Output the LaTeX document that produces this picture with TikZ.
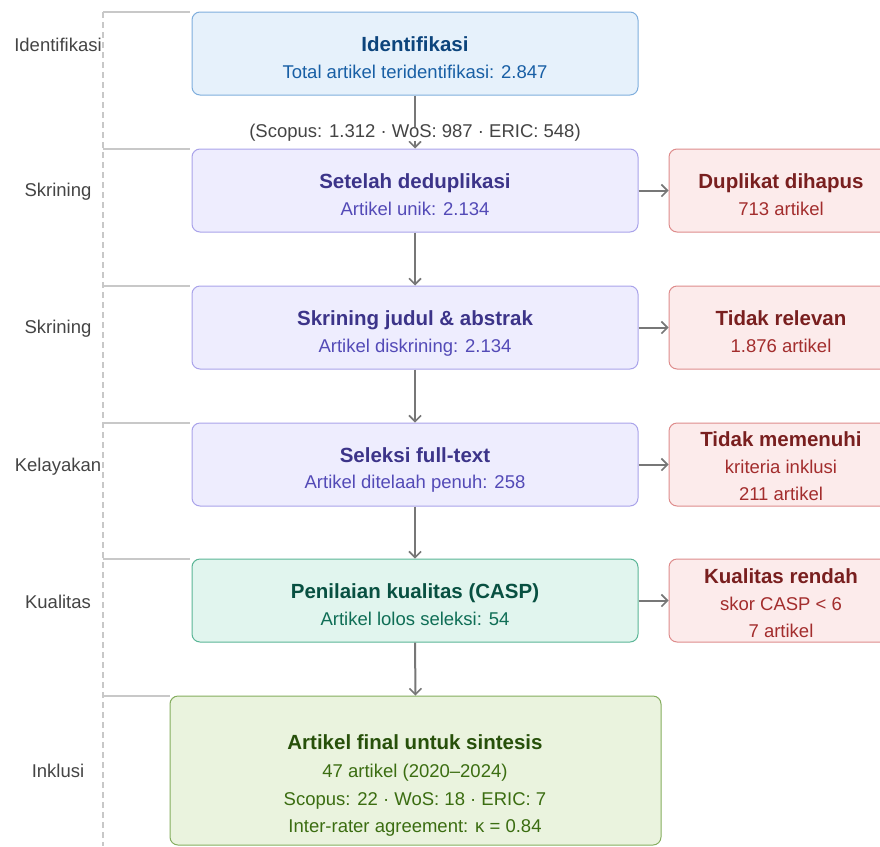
\documentclass[tikz,border=0pt]{standalone}
\usepackage{fontspec}
\setmainfont{Liberation Sans}
\usetikzlibrary{arrows.meta}
\definecolor{bluefill}{HTML}{E6F1FB}
\definecolor{blueline}{HTML}{7FAEDD}
\definecolor{bluetitle}{HTML}{0C447C}
\definecolor{bluesub}{HTML}{185FA5}
\definecolor{purfill}{HTML}{EEEDFE}
\definecolor{purline}{HTML}{A9A3EA}
\definecolor{purtitle}{HTML}{3C3489}
\definecolor{pursub}{HTML}{534AB7}
\definecolor{tealfill}{HTML}{E1F5EE}
\definecolor{tealline}{HTML}{5AB596}
\definecolor{tealtitle}{HTML}{085041}
\definecolor{tealsub}{HTML}{0F6E56}
\definecolor{grnfill}{HTML}{EAF3DE}
\definecolor{grnline}{HTML}{84AD5E}
\definecolor{grntitle}{HTML}{27500A}
\definecolor{grnsub}{HTML}{3B6D11}
\definecolor{redfill}{HTML}{FCEBEB}
\definecolor{redline}{HTML}{DE8C8C}
\definecolor{redtitle}{HTML}{791F1F}
\definecolor{redsub}{HTML}{A32D2D}
\definecolor{guide}{HTML}{C8C8C8}
\definecolor{arrowc}{HTML}{777777}
\definecolor{labelc}{HTML}{444444}
\tikzset{
  box/.style={rectangle, rounded corners=8pt, line width=1pt, inner sep=0pt},
  mainbox/.style={box, minimum width=446pt, minimum height=83pt},
  sidebox/.style={box, minimum width=224pt, minimum height=83pt},
  ttl/.style={inner sep=0pt, yshift=-3pt, text height=0.716em, text depth=0pt, font=\fontsize{20.5}{24}\selectfont\bfseries},
  sub/.style={inner sep=0pt, yshift=-3pt, text height=0.716em, text depth=0pt, font=\fontsize{18.5}{22}\selectfont},
  lane/.style={inner sep=0pt, yshift=-3pt, text height=0.716em, text depth=0pt, font=\fontsize{18.5}{22}\selectfont, text=labelc},
  guideline/.style={draw=guide, line width=1.2pt},
  flow/.style={draw=arrowc, line width=2pt, -{Straight Barb[length=6pt,width=12pt,line width=1.6pt]}}
}
\begin{document}
\begin{tikzpicture}[x=1pt,y=-1pt]
\useasboundingbox (0,0) rectangle (880,846);
% lane guides
\coordinate (gtop) at (103,12);
\coordinate (gbot) at (103,846);
\draw[guideline, dash pattern=on 6pt off 4pt] (gtop) -- (gbot);
\foreach \yy/\xe [count=\i] in {12/190,149/190,286/190,423/190,559/190,696/170}{
  \coordinate (ga\i) at (103,\yy);
  \coordinate (gb\i) at (\xe,\yy);
  \draw[guideline] (ga\i) -- (gb\i);
}
% lane labels
\node[lane] (l1) at (58,45) {Identifikasi};
\node[lane] (l2) at (58,190) {Skrining};
\node[lane] (l3) at (58,327) {Skrining};
\node[lane] (l4) at (58,465) {Kelayakan};
\node[lane] (l5) at (58,602) {Kualitas};
\node[lane] (l6) at (58,771) {Inklusi};
% main boxes
\node[mainbox, fill=bluefill, draw=blueline] (b1) at (415,53.5) {};
\node[mainbox, fill=purfill, draw=purline] (b2) at (415,190.5) {};
\node[mainbox, fill=purfill, draw=purline] (b3) at (415,327.5) {};
\node[mainbox, fill=purfill, draw=purline] (b4) at (415,464.5) {};
\node[mainbox, fill=tealfill, draw=tealline] (b5) at (415,600.5) {};
\node[box, minimum width=491pt, minimum height=149pt, fill=grnfill, draw=grnline] (b6) at (415.5,770.5) {};
% side boxes
\node[sidebox, fill=redfill, draw=redline] (r2) at (781,190.5) {};
\node[sidebox, fill=redfill, draw=redline] (r3) at (781,327.5) {};
\node[sidebox, fill=redfill, draw=redline] (r4) at (781,464.5) {};
\node[sidebox, fill=redfill, draw=redline] (r5) at (781,600.5) {};
% texts
\node[ttl, text=bluetitle] (t1) at (415,45) {Identifikasi};
\node[sub, text=bluesub] (s1) at (415,72) {Total artikel teridentifikasi: 2.847};
\node[ttl, text=purtitle] (t2) at (415,182) {Setelah deduplikasi};
\node[sub, text=pursub] (s2) at (415,209) {Artikel unik: 2.134};
\node[ttl, text=purtitle] (t3) at (415,319) {Skrining judul \& abstrak};
\node[sub, text=pursub] (s3) at (415,346) {Artikel diskrining: 2.134};
\node[ttl, text=purtitle] (t4) at (415,456) {Seleksi full-text};
\node[sub, text=pursub] (s4) at (415,482) {Artikel ditelaah penuh: 258};
\node[ttl, text=tealtitle] (t5) at (415,592) {Penilaian kualitas (CASP)};
\node[sub, text=tealsub] (s5) at (415,619) {Artikel lolos seleksi: 54};
\node[ttl, text=grntitle] (t6) at (415,743) {Artikel final untuk sintesis};
\node[sub, text=grnsub] (s6a) at (415,771) {47 artikel (2020–2024)};
\node[sub, text=grnsub] (s6b) at (415,799) {Scopus: 22 · WoS: 18 · ERIC: 7};
\node[sub, text=grnsub] (s6c) at (415,826) {Inter-rater agreement: κ = 0.84};
\node[ttl, text=redtitle] (rt2) at (781,182) {Duplikat dihapus};
\node[sub, text=redsub] (rs2) at (781,209) {713 artikel};
\node[ttl, text=redtitle] (rt3) at (781,319) {Tidak relevan};
\node[sub, text=redsub] (rs3) at (781,346) {1.876 artikel};
\node[ttl, text=redtitle] (rt4) at (781,440) {Tidak memenuhi};
\node[sub, text=redsub] (rs4a) at (781,467) {kriteria inklusi};
\node[sub, text=redsub] (rs4b) at (781,494) {211 artikel};
\node[ttl, text=redtitle] (rt5) at (781,577) {Kualitas rendah};
\node[sub, text=redsub] (rs5a) at (781,604) {skor CASP < 6};
\node[sub, text=redsub] (rs5b) at (781,631) {7 artikel};
% flow arrows
\draw[flow] (b1.south) -- (b2.north);
\node[sub, text=labelc, fill=white, inner xsep=2pt, inner ysep=3pt] (src) at (415,131) {(Scopus: 1.312 · WoS: 987 · ERIC: 548)};
\draw[flow] (b2.south) -- (b3.north);
\draw[flow] (b3.south) -- (b4.north);
\draw[flow] (b4.south) -- (b5.north);
\draw[flow] (b5.south) -- (b6.north);
\draw[flow] (b2.east) -- (r2.west);
\draw[flow] (b3.east) -- (r3.west);
\draw[flow] (b4.east) -- (r4.west);
\draw[flow] (b5.east) -- (r5.west);
\end{tikzpicture}
\end{document}
